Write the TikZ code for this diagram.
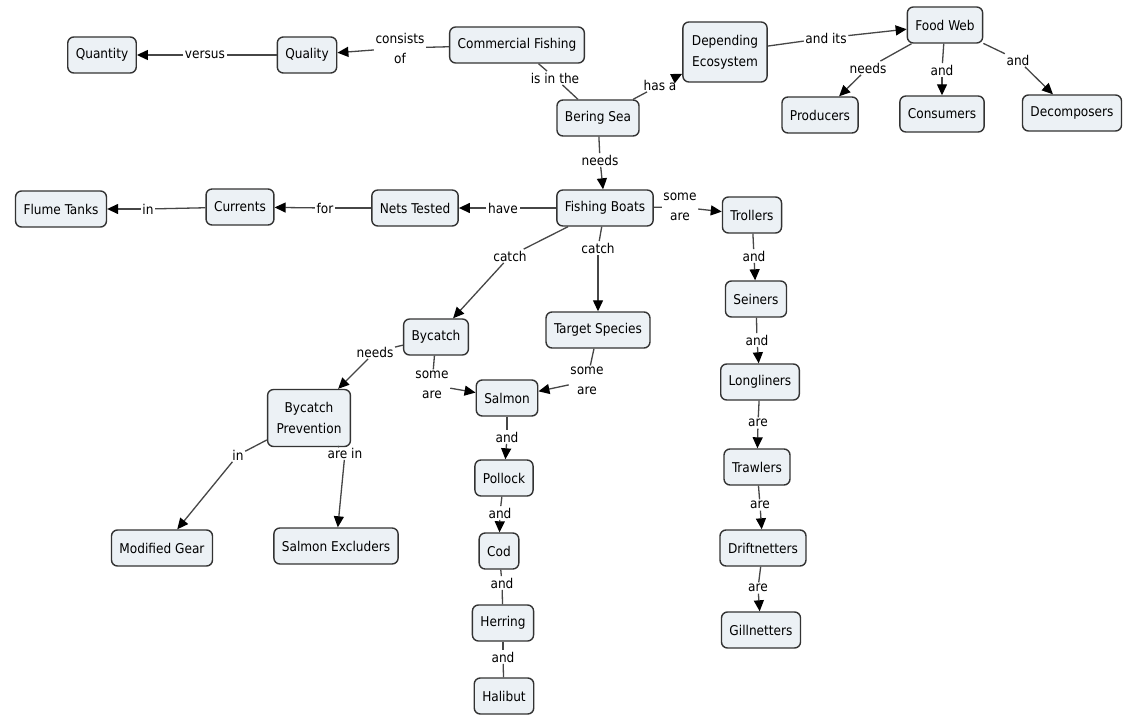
\documentclass[tikz,border=0pt]{standalone}
\usepackage{fontspec}
\setmainfont{DejaVu Sans Condensed}
\usetikzlibrary{arrows.meta}
\definecolor{boxfill}{RGB}{236,241,245}
\definecolor{edgec}{RGB}{70,70,70}
\begin{document}
\begin{tikzpicture}[x=1pt,y=-1pt,
  concept/.style={draw=black!80, fill=boxfill, rounded corners=6pt, line width=1.4pt,
    font=\fontsize{13.5}{21}\selectfont, inner xsep=8pt, minimum height=36pt, align=center},
  twoline/.style={minimum height=60pt, inner xsep=9pt},
  lab/.style={font=\fontsize{13.5}{20}\selectfont, inner sep=1.5pt, align=center},
  ln/.style={draw=edgec, line width=1.3pt},
  ar/.style={ln, -{Triangle[length=11pt,width=10pt,color=black]}}]
\useasboundingbox[fill=white] (0,0) rectangle (1130,717);
% concepts
\node[concept] (quantity) at (102,55) {Quantity};
\node[concept] (quality) at (307,55) {Quality};
\node[concept] (comm) at (517,45) {Commercial Fishing};
\node[concept,twoline] (eco) at (725,52) {Depending\\Ecosystem};
\node[concept] (food) at (945,25) {Food Web};
\node[concept] (prod) at (820,115) {Producers};
\node[concept] (cons) at (942,114) {Consumers};
\node[concept] (decomp) at (1072,113) {Decomposers};
\node[concept] (bering) at (598,118) {Bering Sea};
\node[concept] (boats) at (605,208) {Fishing Boats};
\node[concept] (nets) at (415,208) {Nets Tested};
\node[concept] (curr) at (240,207) {Currents};
\node[concept] (flume) at (61,209) {Flume Tanks};
\node[concept] (troll) at (752,215) {Trollers};
\node[concept] (sein) at (756,299) {Seiners};
\node[concept] (long) at (760,382) {Longliners};
\node[concept] (trawl) at (757,467) {Trawlers};
\node[concept] (drift) at (763,548) {Driftnetters};
\node[concept] (gill) at (761,630) {Gillnetters};
\node[concept] (byc) at (436,337) {Bycatch};
\node[concept] (target) at (598,330) {Target Species};
\node[concept] (salmon) at (507,398) {Salmon};
\node[concept] (pollock) at (504,478) {Pollock};
\node[concept] (cod) at (499,551) {Cod};
\node[concept] (herring) at (503,623) {Herring};
\node[concept] (halibut) at (504,696) {Halibut};
\node[concept,twoline,minimum height=57pt] (prev) at (309,418) {Bycatch\\Prevention};
\node[concept] (gear) at (162,548) {Modified Gear};
\node[concept] (excl) at (336,546) {Salmon Excluders};
% labels
\node[lab] (l1) at (400,48) {consists\\of};
\node[lab] (l2) at (205,55) {versus};
\node[lab] (l3) at (555,78) {is in the};
\node[lab] (l4) at (660,85) {has a};
\node[lab] (l5) at (826,38) {and its};
\node[lab] (l6) at (868,68) {needs};
\node[lab] (l7) at (942,70) {and};
\node[lab] (l8) at (1018,60) {and};
\node[lab] (l9) at (600,160) {needs};
\node[lab] (l10) at (503,208) {have};
\node[lab] (l11) at (325,208) {for};
\node[lab] (l12) at (148,209) {in};
\node[lab] (l13) at (680,207) {some\\are};
\node[lab] (l14) at (510,256) {catch};
\node[lab] (l15) at (598,248) {catch};
\node[lab] (l16) at (375,352) {needs};
\node[lab] (l17) at (432,385) {some\\are};
\node[lab] (l18) at (587,381) {some\\are};
\node[lab] (l19) at (507,437) {and};
\node[lab] (l20) at (500,513) {and};
\node[lab] (l21) at (502,583) {and};
\node[lab] (l22) at (503,657) {and};
\node[lab] (l23) at (238,455) {in};
\node[lab] (l24) at (345,453) {are in};
\node[lab] (l25) at (754,256) {and};
\node[lab] (l26) at (757,340) {and};
\node[lab] (l27) at (758,423) {are};
\node[lab] (l28) at (760,505) {are};
\node[lab] (l29) at (758,588) {are};
% connectors
\draw[ln] (comm) -- (l1); \draw[ar] (l1) -- (quality);
\draw[ln] (quality) -- (l2); \draw[ar] (l2) -- (quantity);
\draw[ln] (comm) -- (l3); \draw[ln] (l3) -- (bering);
\draw[ln] (bering) -- (l4); \draw[ar] (l4) -- (eco);
\draw[ln] (eco) -- (l5); \draw[ar] (l5) -- (food);
\draw[ln] (food) -- (l6); \draw[ar] (l6) -- (prod);
\draw[ln] (food) -- (l7); \draw[ar] (l7) -- (cons);
\draw[ln] (food) -- (l8); \draw[ar] (l8) -- (decomp);
\draw[ln] (bering) -- (l9); \draw[ar] (l9) -- (boats);
\draw[ln] (boats) -- (l10); \draw[ar] (l10) -- (nets);
\draw[ln] (nets) -- (l11); \draw[ar] (l11) -- (curr);
\draw[ln] (curr) -- (l12); \draw[ar] (l12) -- (flume);
\draw[ln] (boats) -- (l13); \draw[ar] (l13) -- (troll);
\draw[ln] (boats) -- (l14); \draw[ar] (l14) -- (byc);
\draw[ln] (boats) -- (l15); \draw[ar] (l15) -- (target);
\draw[ln] (byc) -- (l16); \draw[ar] (l16) -- (prev);
\draw[ln] (byc) -- (l17); \draw[ar] (l17) -- (salmon);
\draw[ln] (target) -- (l18); \draw[ar] (l18) -- (salmon);
\draw[ln] (salmon) -- (l19); \draw[ar] (l19) -- (pollock);
\draw[ln] (pollock) -- (l20); \draw[ar] (l20) -- (cod);
\draw[ln] (cod) -- (l21); \draw[ln] (l21) -- (herring);
\draw[ln] (herring) -- (l22); \draw[ln] (l22) -- (halibut);
\draw[ln] (prev) -- (l23); \draw[ar] (l23) -- (gear);
\draw[ln] (prev) -- (l24); \draw[ar] (l24) -- (excl);
\draw[ln] (troll) -- (l25); \draw[ar] (l25) -- (sein);
\draw[ln] (sein) -- (l26); \draw[ar] (l26) -- (long);
\draw[ln] (long) -- (l27); \draw[ar] (l27) -- (trawl);
\draw[ln] (trawl) -- (l28); \draw[ar] (l28) -- (drift);
\draw[ln] (drift) -- (l29); \draw[ar] (l29) -- (gill);
\end{tikzpicture}
\end{document}
